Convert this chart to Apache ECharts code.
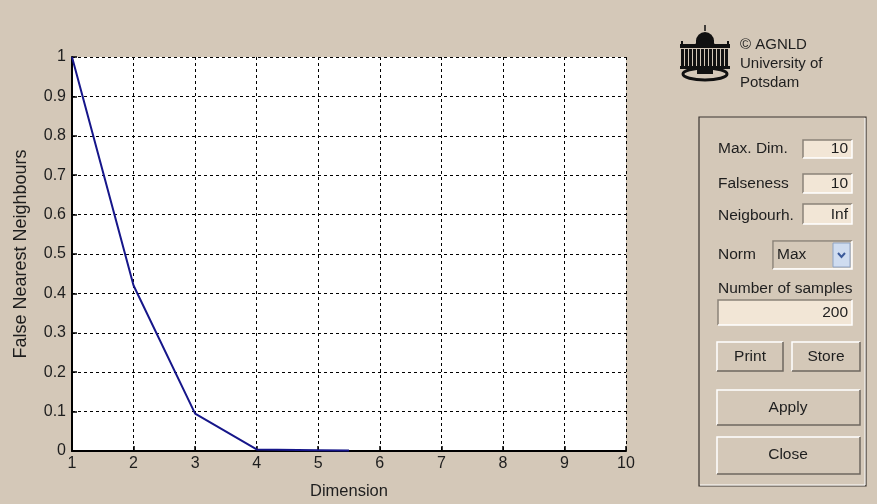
<!DOCTYPE html>
<html>
<head>
<meta charset="utf-8">
<script src="https://cdn.jsdelivr.net/npm/echarts@6/dist/echarts.min.js"></script>
<style>
html,body{margin:0;padding:0;background:#d4c8b8;}
#c{width:877px;height:504px;}
</style>
</head>
<body>
<div id="c"></div>
<script>
var dimensions = [1, 2, 3, 4, 5, 5.5];
var fnnValues = [1.0, 0.42, 0.095, 0.004, 0.002, 0.001];
var xTicks = [1, 2, 3, 4, 5, 6, 7, 8, 9, 10];
var yTicks = [0, 0.1, 0.2, 0.3, 0.4, 0.5, 0.6, 0.7, 0.8, 0.9, 1];
var xName = 'Dimension';
var yName = 'False Nearest Neighbours';

var FONT = '"Liberation Sans", Arial, sans-serif';
var TXT = '#1e1e1e';
var BG = '#d4c8b8';
var FIELD = '#f2e6d6';
var PF = 15.5;

function bevel(x, y, w, h, raised) {
  var light = raised ? '#ffffff' : '#8a8278';
  var dark = raised ? '#6e675f' : '#ffffff';
  return [
    {type:'rect', shape:{x:x,y:y,width:w,height:h}, style:{fill: raised ? BG : FIELD, stroke:null}},
    {type:'polyline', shape:{points:[[x,y+h],[x,y],[x+w,y]]}, style:{stroke:light, lineWidth:1.5, fill:null}},
    {type:'polyline', shape:{points:[[x,y+h],[x+w,y+h],[x+w,y]]}, style:{stroke:dark, lineWidth:1.5, fill:null}}
  ];
}
function label(x, y, t, align, size) {
  return {type:'text', x:x, y:y, style:{text:t, font:(size||PF)+'px '+FONT, fill:TXT, textAlign:align||'left', textVerticalAlign:'middle'}};
}

var g = [];
// panel frame
g.push({type:'rect', shape:{x:699,y:117,width:167,height:369}, style:{fill:null, stroke:'#3a3530', lineWidth:1.2}});
g.push({type:'polyline', shape:{points:[[700,485],[865,485],[865,118]]}, style:{stroke:'#ffffff', lineWidth:1, fill:null}});
// fields
g.push(label(718,149,'Max. Dim.'));
g = g.concat(bevel(803,140,49,18,false));
g.push(label(848,149,'10','right'));
g.push(label(718,184,'Falseness'));
g = g.concat(bevel(803,174,49,19,false));
g.push(label(848,184,'10','right'));
g.push(label(718,216,'Neigbourh.'));
g = g.concat(bevel(803,204,49,20,false));
g.push(label(848,215,'Inf','right'));
g.push(label(718,255,'Norm'));
g = g.concat(bevel(773,241,79,28,false));
g.push({type:'rect', shape:{x:774,y:242,width:77,height:26}, style:{fill:BG, stroke:null}});
g.push(label(777,255,'Max'));
g.push({type:'rect', shape:{x:833,y:243,width:17,height:24}, style:{fill:'#cfdcf0', stroke:'#8ea3c4', lineWidth:1}});
g.push({type:'polyline', shape:{points:[[838,253],[841.5,257],[845,253]]}, style:{stroke:'#3b5a9a', lineWidth:2, fill:null}});
g.push(label(718,289,'Number of samples'));
g = g.concat(bevel(718,300,134,25,false));
g.push(label(848,313,'200','right'));
// buttons
g = g.concat(bevel(717,342,66,29,true));
g.push(label(750,357,'Print','center'));
g = g.concat(bevel(792,342,68,29,true));
g.push(label(826,357,'Store','center'));
g = g.concat(bevel(717,390,143,35,true));
g.push(label(788,408,'Apply','center'));
g = g.concat(bevel(717,437,143,37,true));
g.push(label(788,455,'Close','center'));
// logo text
g.push(label(740,45,'\u00A9 AGNLD', 'left', 15));
g.push(label(740,64,'University of', 'left', 15));
g.push(label(740,83,'Potsdam', 'left', 15));
// logo building
var K = '#111';
g.push({type:'line', shape:{x1:705,y1:25,x2:705,y2:31}, style:{stroke:K,lineWidth:1.5}});
g.push({type:'sector', shape:{cx:705,cy:41,r:9,r0:0,startAngle:Math.PI,endAngle:2*Math.PI}, style:{fill:K}});
g.push({type:'rect', shape:{x:696,y:40,width:18,height:4}, style:{fill:K}});
g.push({type:'rect', shape:{x:680,y:44,width:50,height:4}, style:{fill:K}});
g.push({type:'rect', shape:{x:681,y:41,width:2,height:3}, style:{fill:K}});
g.push({type:'rect', shape:{x:727,y:41,width:2,height:3}, style:{fill:K}});
g.push({type:'polygon', shape:{points:[[695,44],[705,38],[715,44]]}, style:{fill:K}});
var cols = [681,685,689,693,697,701,705,709,713,717,721,725];
cols.forEach(function(cx){ g.push({type:'rect', shape:{x:cx,y:49,width:3,height:18}, style:{fill:K}}); });
g.push({type:'rect', shape:{x:680,y:66,width:50,height:3}, style:{fill:K}});
g.push({type:'ellipse', shape:{cx:705,cy:74,rx:22,ry:6}, style:{fill:null, stroke:K, lineWidth:3}});
g.push({type:'rect', shape:{x:697,y:69,width:16,height:5}, style:{fill:K}});

var chart = echarts.init(document.getElementById('c'), null, {renderer:'canvas'});
chart.setOption({
  backgroundColor: BG,
  animation: false,
  grid: {left:72, top:57, width:554, height:394, show:true, backgroundColor:'#ffffff', borderWidth:0, containLabel:false, outerBoundsMode:'none'},
  xAxis: {
    type:'value', min:xTicks[0], max:xTicks[xTicks.length-1], interval:1,
    name:xName, nameLocation:'middle', nameGap:32,
    nameTextStyle:{fontFamily:FONT, fontSize:16.5, color:TXT},
    axisLine:{show:true, onZero:false, lineStyle:{color:'#000', width:2}},
    axisTick:{show:true, inside:true, length:5, lineStyle:{color:'#000', width:1.5}},
    axisLabel:{fontFamily:FONT, fontSize:16, color:TXT, margin:5},
    splitLine:{show:true, lineStyle:{color:'#000', type:[3,3], width:1}}
  },
  yAxis: {
    type:'value', min:yTicks[0], max:yTicks[yTicks.length-1], interval:0.1,
    name:yName, nameLocation:'middle', nameGap:42, nameRotate:90,
    nameTextStyle:{fontFamily:FONT, fontSize:18, color:TXT},
    axisLine:{show:true, onZero:false, lineStyle:{color:'#000', width:2}},
    axisTick:{show:true, inside:true, length:5, lineStyle:{color:'#000', width:1.5}},
    axisLabel:{fontFamily:FONT, fontSize:16, color:TXT, margin:6,
      formatter:function(v){ return String(Math.round(v*10)/10); }},
    splitLine:{show:true, lineStyle:{color:'#000', type:[3,3], width:1}}
  },
  series: [{
    type:'line', data: dimensions.map(function(d,i){ return [d, fnnValues[i]]; }),
    symbol:'none', lineStyle:{color:'#16168a', width:2}, clip:false
  }],
  graphic: g
});
</script>
</body>
</html>
